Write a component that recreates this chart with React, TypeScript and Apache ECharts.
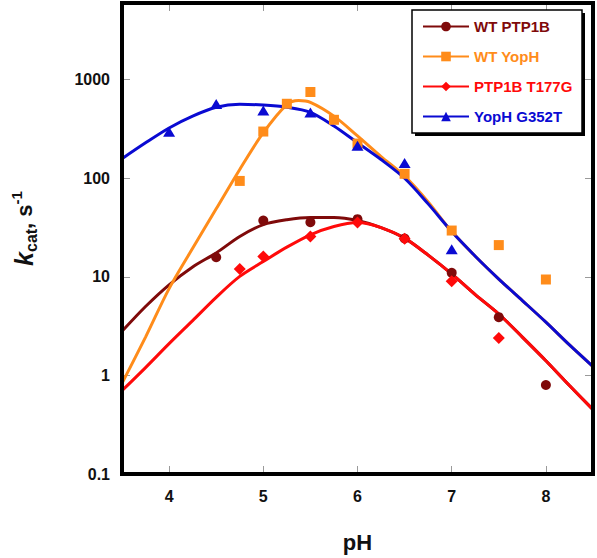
import React, { useEffect, useRef } from "react";
import * as echarts from "echarts";

// ---- data ----
const seriesNames = ["WT PTP1B", "WT YopH", "PTP1B T177G", "YopH G352T"];
const seriesColors = ["#7f0a0a", "#ff8c1a", "#ff0a0a", "#0a0ad2"];
const seriesSymbols = ["circle", "rect", "diamond", "triangle"];
const symbolSizes: (number | number[])[] = [10, 10, 12, [12, 10]];

// fitted curves
const curvePH = [3.5, 3.75, 4.0, 4.25, 4.5, 4.75, 5.0, 5.25, 5.5, 5.75, 6.0, 6.25, 6.5, 6.75, 7.0, 7.25, 7.5, 7.75, 8.0, 8.25, 8.5];
const curvePHYoph = [3.5, 3.75, 4.0, 4.25, 4.5, 4.75, 5.0, 5.25, 5.375, 5.5, 5.75, 6.0, 6.25, 6.5, 6.75, 7.0, 7.25, 7.5, 7.75, 8.0, 8.25, 8.5];
const curveWtPtp1b = [2.8, 5.0, 8.3, 12.6, 17.5, 25.7, 33.9, 38, 40, 40, 37.3, 31.6, 24.7, 16.6, 10.7, 6.6, 4.2, 2.45, 1.41, 0.79, 0.45];
const curveWtYoph = [0.83, 2.45, 7.6, 19.5, 49, 123, 290, 560, 616, 590, 427, 269, 166, 105, 57.5, 28.8, 16.2, 9.5, 5.75, 3.47, 2.04, 1.23];
const curveT177g = [0.7, 1.2, 2.1, 3.6, 6.2, 10.1, 14.3, 20, 26.7, 32.4, 35.5, 31.6, 24.7, 16.6, 10.7, 6.6, 4.2, 2.45, 1.41, 0.79, 0.45];
const curveG352t = [158, 229, 324, 427, 525, 562, 553, 525, 466, 339, 229, 155, 100, 55, 28.8, 16.2, 9.5, 5.75, 3.47, 2.04, 1.23];

// measured points
const ptsWtPtp1bPH = [4.5, 5.0, 5.5, 6.0, 6.5, 7.0, 7.5, 8.0];
const ptsWtPtp1b = [15.8, 37.3, 35.9, 38.5, 24.5, 11, 3.9, 0.8];
const ptsWtYophPH = [4.75, 5.0, 5.25, 5.5, 5.75, 6.0, 6.5, 7.0, 7.5, 8.0];
const ptsWtYoph = [94, 298, 570, 750, 392, 225, 111, 29.5, 21, 9.4];
const ptsT177gPH = [4.75, 5.0, 5.5, 6.0, 6.5, 7.0, 7.5];
const ptsT177g = [12, 16.1, 25.6, 35.6, 24.3, 9.0, 2.4];
const ptsG352tPH = [4.0, 4.5, 5.0, 5.5, 6.0, 6.5, 7.0];
const ptsG352t = [296, 566, 488, 465, 214, 143, 19.1];

const curveXs = [curvePH, curvePHYoph, curvePH, curvePH];
const curves = [curveWtPtp1b, curveWtYoph, curveT177g, curveG352t];
const pointsPH = [ptsWtPtp1bPH, ptsWtYophPH, ptsT177gPH, ptsG352tPH];
const points = [ptsWtPtp1b, ptsWtYoph, ptsT177g, ptsG352t];

const xMin = 3.5;
const xMax = 8.5;
const yMin = 0.1;
const yMax = 6000;

const FONT = 'Arial, "Liberation Sans", Helvetica, sans-serif';

export default function App() {
  const ref = useRef<HTMLDivElement>(null);

  useEffect(() => {
    if (!ref.current) return;
    const chart = echarts.init(ref.current, undefined, { renderer: "svg" });

    const tickStyle = { show: true, inside: true, length: 8, lineStyle: { color: "#9a9a9a", width: 1 } };
    const noLine = { show: false };

    const series: any[] = [];
    seriesNames.forEach((name, i) => {
      series.push({
        name,
        type: "line",
        data: curveXs[i].map((x, j) => [x, curves[i][j]]),
        smooth: 0.3,
        showSymbol: false,
        symbol: seriesSymbols[i],
        symbolSize: 9,
        lineStyle: { color: seriesColors[i], width: 3 },
        itemStyle: { color: seriesColors[i] },
        z: 2,
      });
    });
    seriesNames.forEach((name, i) => {
      series.push({
        name,
        type: "scatter",
        data: pointsPH[i].map((x, j) => [x, points[i][j]]),
        symbol: seriesSymbols[i],
        symbolSize: symbolSizes[i],
        itemStyle: { color: seriesColors[i], opacity: 1 },
        z: 3,
      });
    });

    chart.setOption({
      animation: false,
      backgroundColor: "#ffffff",
      textStyle: { fontFamily: FONT },
      grid: {
        left: 122,
        right: 4,
        top: 3,
        bottom: 84,
        containLabel: false,
        show: false,
      },
      graphic: [
        {
          type: "rect",
          shape: { x: 122, y: 3, width: 471, height: 471 },
          style: { fill: "none", stroke: "#000", lineWidth: 4 },
          z: 20,
          silent: true,
        },
        {
          type: "rect",
          shape: { x: 415, y: 13, width: 170, height: 123 },
          style: { fill: "#000" },
          z: 8,
        },
        {
          type: "rect",
          shape: { x: 412, y: 10, width: 170, height: 123 },
          style: { fill: "#fff", stroke: "#000", lineWidth: 1.5 },
          z: 9,
        },
      ],
      legend: {
        orient: "vertical",
        left: 412,
        top: 10,
        data: seriesNames.map((n, i) => ({ name: n, textStyle: { color: seriesColors[i] } })),
        itemWidth: 46,
        itemHeight: 12,
        itemGap: 15,
        padding: [9, 4, 8, 10],
        lineStyle: { width: 2 },
        textStyle: { fontFamily: FONT, fontWeight: "bold", fontSize: 15 },
        selectedMode: false,
        z: 10,
      },
      xAxis: [
        {
          type: "value",
          min: xMin,
          max: xMax,
          splitNumber: 5,
          position: "bottom",
          axisLine: noLine,
          axisTick: tickStyle,
          splitLine: { show: false },
          axisLabel: {
            fontFamily: FONT,
            fontWeight: "bold",
            fontSize: 16,
            color: "#111",
            margin: 14,
            showMinLabel: false,
            showMaxLabel: false,
            formatter: (v: number) => (Number.isInteger(v) ? String(v) : ""),
          },
          name: "pH",
          nameLocation: "middle",
          nameGap: 57,
          nameTextStyle: { fontFamily: FONT, fontWeight: "bold", fontSize: 22, color: "#111" },
        },
        {
          type: "value",
          min: xMin,
          max: xMax,
          splitNumber: 5,
          position: "top",
          axisLine: noLine,
          axisTick: tickStyle,
          splitLine: { show: false },
          axisLabel: { show: false },
        },
      ],
      yAxis: [
        {
          type: "log",
          logBase: 10,
          min: yMin,
          max: yMax,
          position: "left",
          axisLine: noLine,
          axisTick: tickStyle,
          minorTick: { show: false },
          splitLine: { show: false },
          axisLabel: {
            fontFamily: FONT,
            fontWeight: "bold",
            fontSize: 16,
            color: "#111",
            margin: 12,
            showMaxLabel: false,
            formatter: (v: number) => (v >= 1 ? String(Math.round(v)) : String(Number(v.toPrecision(1)))),
          },
          name: "{k|k}{sub|cat}{n|, s}{sup|-1}",
          nameLocation: "middle",
          nameGap: 83,
          nameTextStyle: {
            fontFamily: FONT,
            fontWeight: "bold",
            color: "#111",
            padding: [0, 0, 0, 20],
            rich: {
              k: { fontFamily: FONT, fontWeight: "bold", fontStyle: "italic", fontSize: 25, lineHeight: 30, color: "#111" },
              sub: { fontFamily: FONT, fontWeight: "bold", fontSize: 16, verticalAlign: "bottom", color: "#111" },
              n: { fontFamily: FONT, fontWeight: "bold", fontSize: 22, lineHeight: 30, color: "#111" },
              sup: { fontFamily: FONT, fontWeight: "bold", fontSize: 15, verticalAlign: "top", color: "#111" },
            },
          },
        },
        {
          type: "log",
          logBase: 10,
          min: yMin,
          max: yMax,
          position: "right",
          axisLine: noLine,
          axisTick: tickStyle,
          splitLine: { show: false },
          axisLabel: { show: false },
        },
      ],
      series,
    });

    return () => {
      chart.dispose();
    };
  }, []);

  return (
    <div
      ref={ref}
      style={{ position: "absolute", left: 0, top: 0, width: 597, height: 558, background: "#fff" }}
    />
  );
}
